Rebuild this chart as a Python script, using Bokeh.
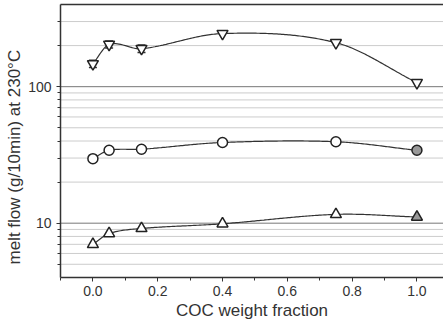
import numpy as np
from bokeh.plotting import figure
from bokeh.models import (Range1d, FixedTicker, PrintfTickFormatter, LogAxis, Title, Span)
from bokeh.embed import file_html
from bokeh.resources import INLINE

# ---- data ----
coc_fraction = [0.0, 0.05, 0.15, 0.4, 0.75, 1.0]
flow_high = [147, 204, 190, 245, 210, 107]
flow_high_err = [9, 12, 12, 0, 0, 0]
flow_mid = [29.7, 34.2, 34.8, 39.0, 39.5, 34.2]
flow_low = [7.0, 8.4, 9.15, 9.9, 11.6, 11.1]
x_ticks = [0.0, 0.2, 0.4, 0.6, 0.8, 1.0]
x_minor = [-0.1, 0.1, 0.3, 0.5, 0.7, 0.9]
y_major = [10, 100]
y_minor = [5, 6, 7, 8, 9, 20, 30, 40, 50, 60, 70, 80, 90, 200, 300]
x_label = "COC weight fraction"
y_label = "melt flow (g/10min) at 230\u00b0C"

FONT = "Liberation Sans"
INK = "#333333"
X0, X1 = -0.1, 1.082
Y0, Y1 = 4.0, 400


def smooth_curve(x, y, xn):
    """Cubic Hermite curve through the points (Catmull-Rom style slopes)."""
    x = np.asarray(x, float)
    y = np.asarray(y, float)
    n = len(x)
    h = np.diff(x)
    m = np.zeros(n)
    for k in range(1, n - 1):
        m[k] = (y[k + 1] - y[k - 1]) / (x[k + 1] - x[k - 1])
    m[0] = (y[1] - y[0]) / h[0]
    m[-1] = (y[-1] - y[-2]) / h[-1]
    idx = np.clip(np.searchsorted(x, xn) - 1, 0, n - 2)
    out = np.empty(len(xn))
    for i, (xi, k) in enumerate(zip(xn, idx)):
        t = (xi - x[k]) / h[k]
        h00 = 2 * t**3 - 3 * t**2 + 1
        h10 = t**3 - 2 * t**2 + t
        h01 = -2 * t**3 + 3 * t**2
        h11 = t**3 - t**2
        out[i] = h00 * y[k] + h10 * h[k] * m[k] + h01 * y[k + 1] + h11 * h[k] * m[k + 1]
    return out


p = figure(width=443, height=333, y_axis_type="log",
           x_range=Range1d(X0, X1), y_range=Range1d(Y0, Y1),
           output_backend="svg", toolbar_location=None,
           min_border_left=60, min_border_right=0, min_border_top=4,
           min_border_bottom=56)
p.outline_line_color = None
p.background_fill_color = "white"
p.border_fill_color = "white"

# horizontal reference lines at the log ticks (drawn as spans)
p.xgrid.visible = False
p.ygrid.visible = False
for v in y_minor:
    p.add_layout(Span(location=v, dimension="width", line_color="#cccccc",
                      line_width=1, level="underlay"))
for v in y_major:
    p.add_layout(Span(location=v, dimension="width", line_color="#777777",
                      line_width=1, level="underlay"))

# axes
p.xaxis.ticker = FixedTicker(ticks=x_ticks, minor_ticks=x_minor)
p.yaxis.ticker = FixedTicker(ticks=y_major, minor_ticks=y_minor)
p.yaxis.formatter = PrintfTickFormatter(format="%d")
p.xaxis.formatter = PrintfTickFormatter(format="%.1f")
for ax in (p.xaxis, p.yaxis):
    ax.axis_line_color = INK
    ax.axis_line_width = 1.5
    ax.major_tick_line_color = INK
    ax.minor_tick_line_color = INK
    ax.major_tick_out = 4
    ax.major_tick_in = 0
    ax.minor_tick_out = 3
    ax.minor_tick_in = 0
    ax.major_label_text_font = FONT
    ax.major_label_text_font_size = "14px"
    ax.major_label_text_color = INK
    ax.axis_label_text_font = FONT
    ax.axis_label_text_font_size = "17px"
    ax.axis_label_text_font_style = "normal"
    ax.axis_label_text_color = INK
p.xaxis.axis_label = x_label
p.xaxis.major_label_standoff = 4
p.xaxis.axis_label_standoff = 2
p.yaxis.major_label_standoff = 5

# y-axis title, starting a little above the frame bottom as in the original
p.add_layout(Title(text=y_label, align="left", offset=13, standoff=3,
                   text_font=FONT, text_font_size="17px",
                   text_font_style="normal", text_color=INK), "left")

# top frame line as a bare axis
top = LogAxis(ticker=FixedTicker(ticks=[]), axis_line_color=INK,
              axis_line_width=1.5, major_tick_out=0, minor_tick_out=0,
              major_tick_in=0, minor_tick_in=0, major_label_text_font_size="0px")
p.add_layout(top, "above")

# fitted curves through each series (smooth in log space), one multi_line
xs = np.linspace(coc_fraction[0], coc_fraction[-1], 200)
curve_xs, curve_ys = [], []
for series in (flow_high, flow_mid, flow_low):
    curve_xs.append(list(xs))
    curve_ys.append(list(10 ** smooth_curve(coc_fraction, np.log10(series), xs)))
p.multi_line(curve_xs, curve_ys, line_color=INK, line_width=1.2)

# error bars on the high-flow series (segments with dash caps)
err_x = [x for x, e in zip(coc_fraction, flow_high_err) if e > 0]
err_up = [v + e for v, e in zip(flow_high, flow_high_err) if e > 0]
err_lo = [v - e for v, e in zip(flow_high, flow_high_err) if e > 0]
p.segment(err_x, err_lo, err_x, err_up, line_color=INK, line_width=1.2)
p.scatter(err_x + err_x, err_up + err_lo, marker="dash", size=8,
          line_color=INK, line_width=1.5)

fills = ["white"] * (len(coc_fraction) - 1) + ["#999999"]
p.scatter(coc_fraction, flow_high, marker="inverted_triangle", size=11,
          line_color="#222222", line_width=1.5, fill_color="white")
p.scatter(coc_fraction, flow_mid, marker="circle", size=10,
          line_color="#222222", line_width=1.5, fill_color=fills)
p.scatter(coc_fraction, flow_low, marker="triangle", size=11,
          line_color="#222222", line_width=1.5, fill_color=fills)

open("out.html", "w").write(file_html(p, INLINE))
